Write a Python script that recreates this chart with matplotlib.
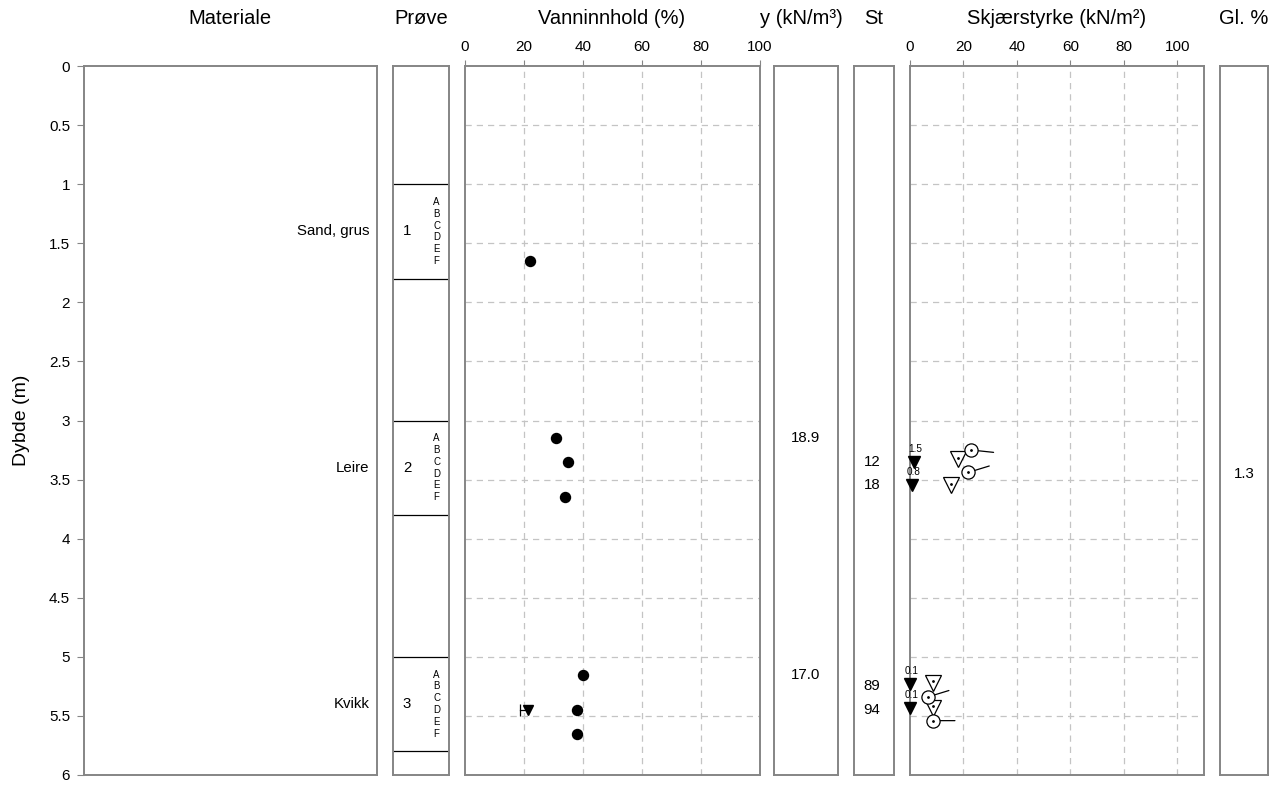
import matplotlib
matplotlib.use("Agg")
import matplotlib.pyplot as plt
import numpy as np

plt.rcParams['font.family'] = ['Liberation Sans', 'DejaVu Sans']

# ---------------- data ----------------
depth_ticks = [0, 0.5, 1, 1.5, 2, 2.5, 3, 3.5, 4, 4.5, 5, 5.5, 6]
depth_tick_labels = ["0", "0.5", "1", "1.5", "2", "2.5", "3", "3.5", "4", "4.5", "5", "5.5", "6"]
pct_ticks = [0, 20, 40, 60, 80, 100]

materials = ["Sand, grus", "Leire", "Kvikk"]
material_depth = [1.4, 3.4, 5.4]

sample_no = ["1", "2", "3"]
sample_top = [1.0, 3.0, 5.0]
sample_bottom = [1.8, 3.8, 5.8]
sub_letters = ["A", "B", "C", "D", "E", "F"]

water_depth = [1.65, 3.15, 3.35, 3.65, 5.15, 5.45, 5.65]
water_content = [22, 31, 35, 34, 40, 38, 38]

limits_depth = [5.45]
plastic_limit = [18.5]
liquid_limit = [21.5]

density_depth = [3.15, 5.15]
density = ["18.9", "17.0"]

st_depth = [3.35, 3.55, 5.25, 5.45]
sensitivity = ["12", "18", "89", "94"]

remoulded_depth = [3.35, 3.55, 5.23, 5.43]
remoulded = [1.5, 0.8, 0.1, 0.1]
remoulded_label = ["1.5", "0.8", "0.1", "0.1"]

cone_depth = [3.33, 3.55, 5.22, 5.43]
cone = [18, 15.3, 8.7, 8.7]

uc_depth = [3.25, 3.44, 5.34, 5.54]
uc = [23, 21.7, 6.6, 8.5]
uc_tail_angle = [-6, 17, 17, 0]

gl_depth = [3.45]
gl = ["1.3"]

# ---------------- layout ----------------
W, H = 1279, 788
fig = plt.figure(figsize=(W / 100, H / 100), dpi=100)

top_px, bot_px = 66, 775
def rect(x0, x1):
    return [x0 / W, 1 - bot_px / H, (x1 - x0) / W, (bot_px - top_px) / H]

spine_c = '#858585'
grid_c = '#c4c4c4'

ax_mat = fig.add_axes(rect(84, 377))
ax_pr = fig.add_axes(rect(393, 449), sharey=ax_mat)
ax_w = fig.add_axes(rect(465, 760), sharey=ax_mat)
ax_g = fig.add_axes(rect(774, 838), sharey=ax_mat)
ax_st = fig.add_axes(rect(854, 894), sharey=ax_mat)
ax_s = fig.add_axes(rect(910, 1204), sharey=ax_mat)
ax_gl = fig.add_axes(rect(1220, 1268), sharey=ax_mat)

all_axes = [ax_mat, ax_pr, ax_w, ax_g, ax_st, ax_s, ax_gl]
for a in all_axes:
    for sp in a.spines.values():
        sp.set_color(spine_c)
        sp.set_linewidth(1.4)
    a.set_xticks([])
    a.tick_params(left=False, labelleft=False, bottom=False, labelbottom=False)

ax_mat.set_ylim(6, 0)
ax_mat.set_yticks(depth_ticks)
ax_mat.set_yticklabels(depth_tick_labels)
ax_mat.tick_params(left=True, labelleft=True, length=5, color=spine_c,
                   labelsize=11, pad=5)
ax_mat.set_ylabel("Dybde (m)", fontsize=14, labelpad=14)
ax_mat.set_xlim(0, 1)

for name, d in zip(materials, material_depth):
    ax_mat.text(0.975, d, name, ha='right', va='center', fontsize=10.8,
                transform=ax_mat.get_yaxis_transform())

# Prøve
ax_pr.set_xlim(0, 1)
for no, t, b in zip(sample_no, sample_top, sample_bottom):
    ax_pr.axhline(t, color='black', lw=0.9)
    ax_pr.axhline(b, color='black', lw=0.9)
    ax_pr.text(0.25, (t + b) / 2, no, ha='center', va='center', fontsize=10.8)
    for i, L in enumerate(sub_letters):
        ax_pr.text(0.78, t + 0.15 + 0.1 * i, L, ha='center', va='center', fontsize=7)

# Vanninnhold
def pct_axis(a, xmax, gridticks):
    a.set_xlim(0, xmax)
    a.set_xticks(pct_ticks)
    a.xaxis.set_ticks_position('top')
    a.tick_params(top=True, labeltop=True, bottom=False, labelbottom=False,
                  length=4, color=spine_c, labelsize=11, pad=5)
    for gx in gridticks:
        a.axvline(gx, color=grid_c, lw=0.9, ls=(0, (5, 4)), zorder=0)
    for gy in depth_ticks[1:-1]:
        a.axhline(gy, color=grid_c, lw=0.9, ls=(0, (5, 4)), zorder=0)

pct_axis(ax_w, 100, [20, 40, 60, 80])
ax_w.plot(water_content, water_depth, 'o', color='black', ms=7.2, zorder=3)
for d, wp, wl in zip(limits_depth, plastic_limit, liquid_limit):
    ax_w.plot([wp, wl], [d, d], color='black', lw=0.9, zorder=3)
    ax_w.plot([wp], [d], marker='|', color='black', ms=8, mew=0.9, zorder=3)
    ax_w.plot([wl], [d], marker='v', color='black', ms=6.5, zorder=3)

# Densitet
ax_g.set_xlim(0, 1)
for d, v in zip(density_depth, density):
    ax_g.text(0.5, d, v, ha='center', va='center', fontsize=10.8)

# St
ax_st.set_xlim(0, 1)
for d, v in zip(st_depth, sensitivity):
    ax_st.text(0.45, d, v, ha='center', va='center', fontsize=10.8)

# Skjærstyrke
pct_axis(ax_s, 110, [20, 40, 60, 80, 100])
ax_s.plot(remoulded, remoulded_depth, 'v', color='black', ms=8.5, zorder=4, clip_on=False)
for x, d, lab in zip(remoulded, remoulded_depth, remoulded_label):
    ax_s.text(x + 0.6, d - 0.11, lab, ha='center', va='center', fontsize=7.2, zorder=5)

ax_s.plot(cone, cone_depth, 'v', mfc='white', mec='black', mew=0.9, ms=11, zorder=4)
ax_s.plot(cone, [d - 0.015 for d in cone_depth], '.', color='black', ms=2, zorder=5)

L = 16
for x, d, ang in zip(uc, uc_depth, uc_tail_angle):
    dx = L * np.cos(np.radians(ang))
    dy = L * np.sin(np.radians(ang))
    ax_s.annotate("", xy=(x, d), xytext=(dx, dy), textcoords='offset points',
                  arrowprops=dict(arrowstyle='-', color='black', lw=0.9,
                                  shrinkA=0, shrinkB=0), zorder=3)
ax_s.plot(uc, uc_depth, 'o', mfc='white', mec='black', mew=0.9, ms=9.5, zorder=4)
ax_s.plot(uc, uc_depth, '.', color='black', ms=2, zorder=5)

# Gl
ax_gl.set_xlim(0, 1)
for d, v in zip(gl_depth, gl):
    ax_gl.text(0.5, d, v, ha='center', va='center', fontsize=10.8)

# Headers
hy = 1 - 18 / H
headers = [("Materiale", 230), ("Prøve", 421), ("Vanninnhold (%)", 612),
           ("y (kN/m³)", 801), ("St", 874), ("Skjærstyrke (kN/m²)", 1057),
           ("Gl. %", 1244)]
for txt, xc in headers:
    fig.text(xc / W, hy, txt, ha='center', va='center', fontsize=14.5)

fig.savefig("out.png", dpi=100)
